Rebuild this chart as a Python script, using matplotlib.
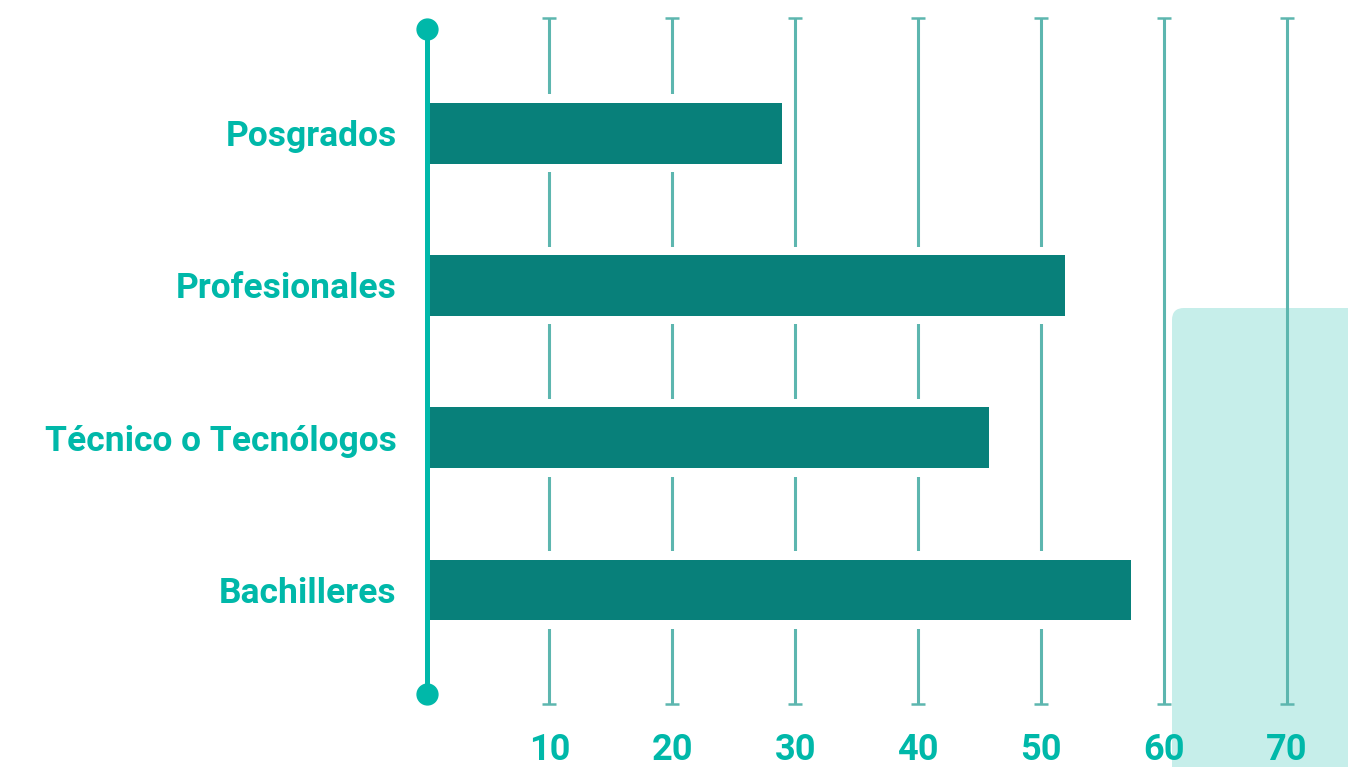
import matplotlib
matplotlib.use("Agg")
import matplotlib.pyplot as plt
from matplotlib.patches import FancyBboxPatch
from matplotlib.transforms import IdentityTransform

categorias = ["Bachilleres", "Técnico o Tecnólogos", "Profesionales", "Posgrados"]
valores = [57.3, 45.8, 52.0, 28.9]
ticks = [10, 20, 30, 40, 50, 60, 70]
tick_labels = ["10", "20", "30", "40", "50", "60", "70"]

texto = "#00B8A9"
barra = "#08807A"
grilla = "#5DB6AF"

plt.rcParams['font.family'] = ['Roboto', 'DejaVu Sans']

fig = plt.figure(figsize=(13.48, 7.67), dpi=100)
ax = fig.add_axes([426 / 1348, 63 / 767, 1 - 426 / 1348, 686 / 767])
ax.set_xlim(-0.05, 75.0)
ax.set_ylim(-0.7485, 3.756)
for s in ax.spines.values():
    s.set_visible(False)

y = list(range(len(categorias)))

# light panel bottom right
panel = FancyBboxPatch((1172, -60), 300, 519, boxstyle="round,pad=0,rounding_size=12",
                       transform=IdentityTransform(), facecolor="#C6EEEA", edgecolor="none",
                       zorder=0.5, clip_on=False)
ax.add_artist(panel)

# gridlines with caps
ylo, yhi = ax.get_ylim()
ax.vlines(ticks, ylo, yhi, color=grilla, lw=2.2, zorder=1)
ax.plot(ticks, [ylo] * len(ticks), ls="none", marker="_", ms=10, mew=1.8, color=grilla, zorder=1, clip_on=False)
ax.plot(ticks, [yhi] * len(ticks), ls="none", marker="_", ms=10, mew=1.8, color=grilla, zorder=1, clip_on=False)

# white band behind bars to break gridlines
ax.barh(y, valores, height=0.51, color="white", zorder=2)
ax.barh(y, valores, height=0.40, color=barra, zorder=3)

# vertical axis line with dots
ax.plot([0, 0], [3.684, -0.683], color=texto, lw=3.6, zorder=4, clip_on=False)
ax.plot([0, 0], [3.684, -0.683], ls="none", marker="o", ms=15, color=texto, zorder=5, clip_on=False)

ax.set_yticks(y)
ax.set_yticklabels(categorias, fontsize=25.5, fontweight="bold", color=texto)
ax.set_xticks(ticks)
ax.set_xticklabels(tick_labels, fontsize=26, fontweight="bold", color=texto)
ax.tick_params(axis="y", length=0, pad=21)
ax.tick_params(axis="x", length=0, pad=20)

fig.savefig("out.png", dpi=100)
